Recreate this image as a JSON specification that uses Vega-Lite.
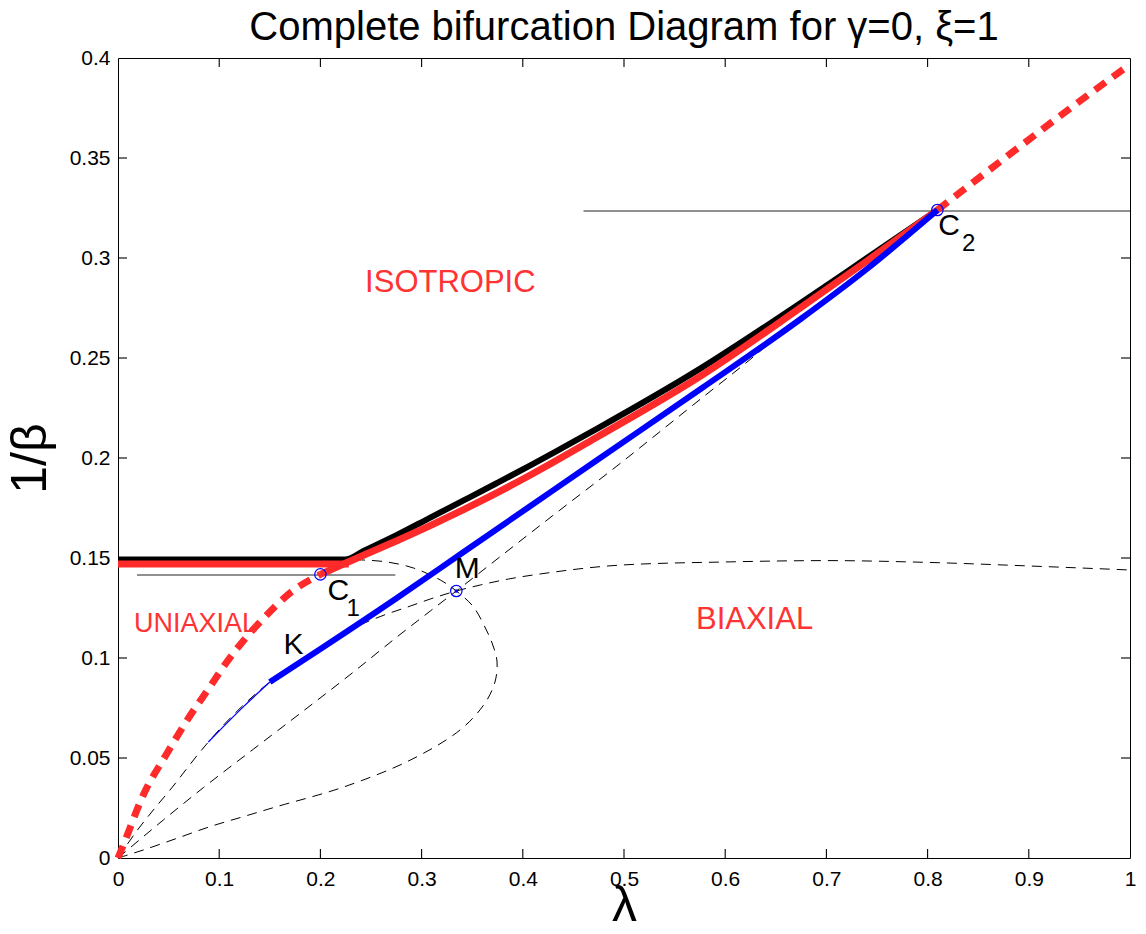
{
  "$schema": "https://vega.github.io/schema/vega-lite/v6.json",
  "width": 1012,
  "height": 800,
  "autosize": "none",
  "padding": {"left": 118, "top": 58, "right": 16, "bottom": 76},
  "background": "white",
  "config": {"view": {"stroke": "black", "strokeWidth": 1, "fill": null}, "font": "Liberation Sans"},
  "title": {"text": "Complete bifurcation Diagram for γ=0, ξ=1", "fontSize": 40, "fontWeight": "normal", "font": "Liberation Sans", "color": "black", "anchor": "middle", "offset": -1},
  "datasets": {
    "xticks": [{"t": 0.1}, {"t": 0.2}, {"t": 0.3}, {"t": 0.4}, {"t": 0.5}, {"t": 0.6}, {"t": 0.7}, {"t": 0.8}, {"t": 0.9}],
    "yticks": [{"t": 0.05}, {"t": 0.1}, {"t": 0.15}, {"t": 0.2}, {"t": 0.25}, {"t": 0.3}, {"t": 0.35}],
    "curves": [
      {"s": "d1", "i": 0, "lam": 0, "v": 0},
      {"s": "d1", "i": 1, "lam": 0.02, "v": 0.0145},
      {"s": "d1", "i": 2, "lam": 0.0349, "v": 0.024},
      {"s": "d1", "i": 3, "lam": 0.0514, "v": 0.034},
      {"s": "d1", "i": 4, "lam": 0.0794, "v": 0.052},
      {"s": "d1", "i": 5, "lam": 0.0893, "v": 0.058},
      {"s": "d1", "i": 6, "lam": 0.15, "v": 0.088},
      {"s": "d1", "i": 7, "lam": 0.2, "v": 0.1045},
      {"s": "d1", "i": 8, "lam": 0.235, "v": 0.1155},
      {"s": "d1", "i": 9, "lam": 0.259, "v": 0.1207},
      {"s": "d1", "i": 10, "lam": 0.289, "v": 0.126},
      {"s": "d1", "i": 11, "lam": 0.3086, "v": 0.1295},
      {"s": "d1", "i": 12, "lam": 0.3343, "v": 0.1335},
      {"s": "d1", "i": 13, "lam": 0.358, "v": 0.1365},
      {"s": "d1", "i": 14, "lam": 0.386, "v": 0.1395},
      {"s": "d1", "i": 15, "lam": 0.424, "v": 0.1425},
      {"s": "d1", "i": 16, "lam": 0.498, "v": 0.1465},
      {"s": "d1", "i": 17, "lam": 0.599, "v": 0.148},
      {"s": "d1", "i": 18, "lam": 0.7, "v": 0.1487},
      {"s": "d1", "i": 19, "lam": 0.8, "v": 0.1478},
      {"s": "d1", "i": 20, "lam": 0.901, "v": 0.146},
      {"s": "d1", "i": 21, "lam": 1.0, "v": 0.144},
      {"s": "d2", "i": 0, "lam": 0, "v": 0},
      {"s": "d2", "i": 1, "lam": 0.0448, "v": 0.019},
      {"s": "d2", "i": 2, "lam": 0.0844, "v": 0.0352},
      {"s": "d2", "i": 3, "lam": 0.134, "v": 0.0545},
      {"s": "d2", "i": 4, "lam": 0.18, "v": 0.0723},
      {"s": "d2", "i": 5, "lam": 0.2327, "v": 0.093},
      {"s": "d2", "i": 6, "lam": 0.2756, "v": 0.1105},
      {"s": "d2", "i": 7, "lam": 0.3086, "v": 0.1235},
      {"s": "d2", "i": 8, "lam": 0.3343, "v": 0.1335},
      {"s": "d2", "i": 9, "lam": 0.381, "v": 0.152},
      {"s": "d2", "i": 10, "lam": 0.424, "v": 0.169},
      {"s": "d2", "i": 11, "lam": 0.493, "v": 0.196},
      {"s": "d2", "i": 12, "lam": 0.5757, "v": 0.2295},
      {"s": "d2", "i": 13, "lam": 0.618, "v": 0.2465},
      {"s": "d2", "i": 14, "lam": 0.66, "v": 0.264},
      {"s": "d2", "i": 15, "lam": 0.74, "v": 0.2945},
      {"s": "d2", "i": 16, "lam": 0.8097, "v": 0.324},
      {"s": "d3", "i": 0, "lam": 0, "v": 0},
      {"s": "d3", "i": 1, "lam": 0.025, "v": 0.004},
      {"s": "d3", "i": 2, "lam": 0.058, "v": 0.0098},
      {"s": "d3", "i": 3, "lam": 0.091, "v": 0.0157},
      {"s": "d3", "i": 4, "lam": 0.124, "v": 0.0207},
      {"s": "d3", "i": 5, "lam": 0.157, "v": 0.0257},
      {"s": "d3", "i": 6, "lam": 0.223, "v": 0.0355},
      {"s": "d3", "i": 7, "lam": 0.289, "v": 0.049},
      {"s": "d3", "i": 8, "lam": 0.338, "v": 0.064},
      {"s": "d3", "i": 9, "lam": 0.362, "v": 0.077},
      {"s": "d3", "i": 10, "lam": 0.3725, "v": 0.088},
      {"s": "d3", "i": 11, "lam": 0.3745, "v": 0.0985},
      {"s": "d3", "i": 12, "lam": 0.37, "v": 0.107},
      {"s": "d3", "i": 13, "lam": 0.364, "v": 0.114},
      {"s": "d3", "i": 14, "lam": 0.351, "v": 0.1257},
      {"s": "d3", "i": 15, "lam": 0.3343, "v": 0.1335},
      {"s": "d3", "i": 16, "lam": 0.3185, "v": 0.139},
      {"s": "d3", "i": 17, "lam": 0.292, "v": 0.145},
      {"s": "d3", "i": 18, "lam": 0.266, "v": 0.148},
      {"s": "d3", "i": 19, "lam": 0.2426, "v": 0.149},
      {"s": "d3", "i": 20, "lam": 0.225, "v": 0.1492},
      {"s": "rlo", "i": 0, "lam": 0, "v": 0},
      {"s": "rlo", "i": 1, "lam": 0.0053, "v": 0.0065},
      {"s": "rlo", "i": 2, "lam": 0.025, "v": 0.0315},
      {"s": "rlo", "i": 3, "lam": 0.048, "v": 0.052},
      {"s": "rlo", "i": 4, "lam": 0.071, "v": 0.071},
      {"s": "rlo", "i": 5, "lam": 0.091, "v": 0.0857},
      {"s": "rlo", "i": 6, "lam": 0.1075, "v": 0.098},
      {"s": "rlo", "i": 7, "lam": 0.127, "v": 0.1105},
      {"s": "rlo", "i": 8, "lam": 0.147, "v": 0.1215},
      {"s": "rlo", "i": 9, "lam": 0.17, "v": 0.1325},
      {"s": "rlo", "i": 10, "lam": 0.2, "v": 0.1418},
      {"s": "rhi", "i": 0, "lam": 0.8097, "v": 0.324},
      {"s": "rhi", "i": 1, "lam": 0.8823, "v": 0.3523},
      {"s": "rhi", "i": 2, "lam": 0.94, "v": 0.3745},
      {"s": "rhi", "i": 3, "lam": 1.0, "v": 0.3968},
      {"s": "black", "i": 0, "lam": 0, "v": 0.1492},
      {"s": "black", "i": 1, "lam": 0.2245, "v": 0.1492},
      {"s": "black", "i": 2, "lam": 0.2426, "v": 0.1535},
      {"s": "black", "i": 3, "lam": 0.2756, "v": 0.1615},
      {"s": "black", "i": 4, "lam": 0.3086, "v": 0.1702},
      {"s": "black", "i": 5, "lam": 0.3415, "v": 0.1788},
      {"s": "black", "i": 6, "lam": 0.3746, "v": 0.1875},
      {"s": "black", "i": 7, "lam": 0.4075, "v": 0.1963},
      {"s": "black", "i": 8, "lam": 0.44, "v": 0.2053},
      {"s": "black", "i": 9, "lam": 0.4735, "v": 0.2147},
      {"s": "black", "i": 10, "lam": 0.5757, "v": 0.2448},
      {"s": "black", "i": 11, "lam": 0.6746, "v": 0.2775},
      {"s": "black", "i": 12, "lam": 0.74, "v": 0.3},
      {"s": "black", "i": 13, "lam": 0.8097, "v": 0.324},
      {"s": "rh", "i": 0, "lam": 0, "v": 0.147},
      {"s": "rh", "i": 1, "lam": 0.228, "v": 0.147},
      {"s": "rc", "i": 0, "lam": 0.2, "v": 0.1418},
      {"s": "rc", "i": 1, "lam": 0.2097, "v": 0.144},
      {"s": "rc", "i": 2, "lam": 0.2426, "v": 0.1514},
      {"s": "rc", "i": 3, "lam": 0.2756, "v": 0.1586},
      {"s": "rc", "i": 4, "lam": 0.3415, "v": 0.1742},
      {"s": "rc", "i": 5, "lam": 0.4075, "v": 0.1915},
      {"s": "rc", "i": 6, "lam": 0.4735, "v": 0.2105},
      {"s": "rc", "i": 7, "lam": 0.5757, "v": 0.241},
      {"s": "rc", "i": 8, "lam": 0.6746, "v": 0.2752},
      {"s": "rc", "i": 9, "lam": 0.74, "v": 0.2985},
      {"s": "rc", "i": 10, "lam": 0.8097, "v": 0.324},
      {"s": "bthin", "i": 0, "lam": 0.0893, "v": 0.058},
      {"s": "bthin", "i": 1, "lam": 0.124, "v": 0.0757},
      {"s": "bthin", "i": 2, "lam": 0.15, "v": 0.088},
      {"s": "bthick", "i": 0, "lam": 0.15, "v": 0.088},
      {"s": "bthick", "i": 1, "lam": 0.2, "v": 0.1045},
      {"s": "bthick", "i": 2, "lam": 0.2756, "v": 0.13},
      {"s": "bthick", "i": 3, "lam": 0.3415, "v": 0.153},
      {"s": "bthick", "i": 4, "lam": 0.4075, "v": 0.176},
      {"s": "bthick", "i": 5, "lam": 0.4735, "v": 0.199},
      {"s": "bthick", "i": 6, "lam": 0.5757, "v": 0.2345},
      {"s": "bthick", "i": 7, "lam": 0.6746, "v": 0.2695},
      {"s": "bthick", "i": 8, "lam": 0.74, "v": 0.2945},
      {"s": "bthick", "i": 9, "lam": 0.8097, "v": 0.324}
    ],
    "hlines": [
      {"lam": 0.0188, "lam2": 0.274, "v": 0.1415},
      {"lam": 0.46, "lam2": 1.0, "v": 0.3235}
    ],
    "pts": [
      {"name": "C1", "lam": 0.2, "v": 0.1418},
      {"name": "M", "lam": 0.3343, "v": 0.1335},
      {"name": "C2", "lam": 0.8097, "v": 0.324}
    ],
    "labels": [
      {"kind": "region", "text": "ISOTROPIC", "lam": 0.3284, "v": 0.2875},
      {"kind": "region", "text": "BIAXIAL", "lam": 0.629, "v": 0.119},
      {"kind": "region2", "text": "UNIAXIAL", "lam": 0.0765, "v": 0.117},
      {"kind": "pt", "text": "C", "lam": 0.2176, "v": 0.1335},
      {"kind": "pt", "text": "K", "lam": 0.1734, "v": 0.1065},
      {"kind": "pt", "text": "M", "lam": 0.345, "v": 0.1445},
      {"kind": "pt", "text": "C", "lam": 0.8213, "v": 0.3162},
      {"kind": "sub", "text": "1", "lam": 0.2325, "v": 0.1245},
      {"kind": "sub", "text": "2", "lam": 0.8405, "v": 0.307}
    ]
  },
  "layer": [
    {
      "data": {"name": "hlines"},
      "mark": {"type": "rule", "color": "#222222", "strokeWidth": 1.1},
      "encoding": {
        "x": {"field": "lam", "type": "quantitative", "scale": {"domain": [0, 1], "nice": false},
          "axis": {"orient": "bottom", "values": [0, 0.1, 0.2, 0.3, 0.4, 0.5, 0.6, 0.7, 0.8, 0.9, 1], "format": "~g", "labelFontSize": 21, "labelFont": "Liberation Sans", "labelColor": "black", "ticks": false, "tickSize": 0, "domain": false, "labelPadding": 10, "labelFlush": false, "grid": false, "title": "λ", "titleFontSize": 50, "titleFontWeight": "normal", "titleFont": "Liberation Sans", "titleColor": "black", "titlePadding": -9}},
        "x2": {"field": "lam2"},
        "y": {"field": "v", "type": "quantitative", "scale": {"domain": [0, 0.4], "nice": false},
          "axis": {"orient": "left", "values": [0, 0.05, 0.1, 0.15, 0.2, 0.25, 0.3, 0.35, 0.4], "format": "~g", "labelFontSize": 21, "labelFont": "Liberation Sans", "labelColor": "black", "ticks": false, "tickSize": 0, "domain": false, "labelPadding": 8, "labelFlush": false, "grid": false, "title": "1/β", "titleFontSize": 50, "titleFontWeight": "normal", "titleFont": "Liberation Sans", "titleColor": "black", "titlePadding": 14}}
      }
    },
    {
      "data": {"name": "xticks"},
      "mark": {"type": "rule", "color": "black", "strokeWidth": 1.1},
      "encoding": {
        "x": {"field": "t", "type": "quantitative", "axis": null},
        "y": {"datum": 0, "type": "quantitative", "axis": null},
        "y2": {"datum": 0.0045}
      }
    },
    {
      "data": {"name": "xticks"},
      "mark": {"type": "rule", "color": "black", "strokeWidth": 1.1},
      "encoding": {
        "x": {"field": "t", "type": "quantitative", "axis": null},
        "y": {"datum": 0.3955, "type": "quantitative", "axis": null},
        "y2": {"datum": 0.4}
      }
    },
    {
      "data": {"name": "yticks"},
      "mark": {"type": "rule", "color": "black", "strokeWidth": 1.1},
      "encoding": {
        "y": {"field": "t", "type": "quantitative", "axis": null},
        "x": {"datum": 0, "type": "quantitative", "axis": null},
        "x2": {"datum": 0.0089}
      }
    },
    {
      "data": {"name": "yticks"},
      "mark": {"type": "rule", "color": "black", "strokeWidth": 1.1},
      "encoding": {
        "y": {"field": "t", "type": "quantitative", "axis": null},
        "x": {"datum": 0.9911, "type": "quantitative", "axis": null},
        "x2": {"datum": 1}
      }
    },
    {
      "data": {"name": "curves"},
      "transform": [{"filter": "datum.s == 'd1' || datum.s == 'd2'"}],
      "mark": {"type": "line", "color": "black", "strokeWidth": 1, "strokeDash": [10, 7], "interpolate": "monotone"},
      "encoding": {
        "x": {"field": "lam", "type": "quantitative", "axis": null},
        "y": {"field": "v", "type": "quantitative", "axis": null},
        "detail": {"field": "s"},
        "order": {"field": "i", "type": "quantitative"}
      }
    },
    {
      "data": {"name": "curves"},
      "transform": [{"filter": "datum.s == 'd3'"}],
      "mark": {"type": "line", "color": "black", "strokeWidth": 1, "strokeDash": [10, 7], "interpolate": "catmull-rom"},
      "encoding": {
        "x": {"field": "lam", "type": "quantitative", "axis": null},
        "y": {"field": "v", "type": "quantitative", "axis": null},
        "order": {"field": "i", "type": "quantitative"}
      }
    },
    {
      "data": {"name": "curves"},
      "transform": [{"filter": "datum.s == 'rlo' || datum.s == 'rhi'"}],
      "mark": {"type": "line", "color": "#ff2a2a", "strokeWidth": 7, "strokeDash": [13, 9], "strokeCap": "butt", "interpolate": "monotone"},
      "encoding": {
        "x": {"field": "lam", "type": "quantitative", "axis": null},
        "y": {"field": "v", "type": "quantitative", "axis": null},
        "detail": {"field": "s"},
        "order": {"field": "i", "type": "quantitative"}
      }
    },
    {
      "data": {"name": "curves"},
      "transform": [{"filter": "datum.s == 'black'"}],
      "mark": {"type": "line", "color": "black", "strokeWidth": 6, "interpolate": "monotone"},
      "encoding": {
        "x": {"field": "lam", "type": "quantitative", "axis": null},
        "y": {"field": "v", "type": "quantitative", "axis": null},
        "order": {"field": "i", "type": "quantitative"}
      }
    },
    {
      "data": {"name": "curves"},
      "transform": [{"filter": "datum.s == 'rh' || datum.s == 'rc'"}],
      "mark": {"type": "line", "color": "#ff2a2a", "strokeWidth": 7, "interpolate": "monotone"},
      "encoding": {
        "x": {"field": "lam", "type": "quantitative", "axis": null},
        "y": {"field": "v", "type": "quantitative", "axis": null},
        "detail": {"field": "s"},
        "order": {"field": "i", "type": "quantitative"}
      }
    },
    {
      "data": {"name": "curves"},
      "transform": [{"filter": "datum.s == 'bthin'"}],
      "mark": {"type": "line", "color": "#0000ff", "strokeWidth": 1.3, "interpolate": "monotone"},
      "encoding": {
        "x": {"field": "lam", "type": "quantitative", "axis": null},
        "y": {"field": "v", "type": "quantitative", "axis": null},
        "order": {"field": "i", "type": "quantitative"}
      }
    },
    {
      "data": {"name": "curves"},
      "transform": [{"filter": "datum.s == 'bthick'"}],
      "mark": {"type": "line", "color": "#0000ff", "strokeWidth": 6, "interpolate": "monotone"},
      "encoding": {
        "x": {"field": "lam", "type": "quantitative", "axis": null},
        "y": {"field": "v", "type": "quantitative", "axis": null},
        "order": {"field": "i", "type": "quantitative"}
      }
    },
    {
      "data": {"name": "pts"},
      "mark": {"type": "point", "shape": "circle", "filled": false, "stroke": "#0000ff", "strokeWidth": 1.2, "size": 130, "opacity": 1},
      "encoding": {
        "x": {"field": "lam", "type": "quantitative", "axis": null},
        "y": {"field": "v", "type": "quantitative", "axis": null}
      }
    },
    {
      "data": {"name": "pts"},
      "transform": [{"filter": "datum.name == 'M'"}],
      "mark": {"type": "circle", "color": "#0000ff", "size": 14, "opacity": 1},
      "encoding": {
        "x": {"field": "lam", "type": "quantitative", "axis": null},
        "y": {"field": "v", "type": "quantitative", "axis": null}
      }
    },
    {
      "data": {"name": "labels"},
      "transform": [{"filter": "datum.kind == 'region'"}],
      "mark": {"type": "text", "font": "Liberation Sans", "fontSize": 31, "color": "#ff3333", "align": "center", "baseline": "middle"},
      "encoding": {
        "x": {"field": "lam", "type": "quantitative", "axis": null},
        "y": {"field": "v", "type": "quantitative", "axis": null},
        "text": {"field": "text"}
      }
    },
    {
      "data": {"name": "labels"},
      "transform": [{"filter": "datum.kind == 'region2'"}],
      "mark": {"type": "text", "font": "Liberation Sans", "fontSize": 27, "color": "#ff3333", "align": "center", "baseline": "middle"},
      "encoding": {
        "x": {"field": "lam", "type": "quantitative", "axis": null},
        "y": {"field": "v", "type": "quantitative", "axis": null},
        "text": {"field": "text"}
      }
    },
    {
      "data": {"name": "labels"},
      "transform": [{"filter": "datum.kind == 'pt'"}],
      "mark": {"type": "text", "font": "Liberation Sans", "fontSize": 30, "color": "black", "align": "center", "baseline": "middle"},
      "encoding": {
        "x": {"field": "lam", "type": "quantitative", "axis": null},
        "y": {"field": "v", "type": "quantitative", "axis": null},
        "text": {"field": "text"}
      }
    },
    {
      "data": {"name": "labels"},
      "transform": [{"filter": "datum.kind == 'sub'"}],
      "mark": {"type": "text", "font": "Liberation Sans", "fontSize": 24, "color": "black", "align": "center", "baseline": "middle"},
      "encoding": {
        "x": {"field": "lam", "type": "quantitative", "axis": null},
        "y": {"field": "v", "type": "quantitative", "axis": null},
        "text": {"field": "text"}
      }
    }
  ],
  "resolve": {"axis": {"x": "independent", "y": "independent"}}
}
